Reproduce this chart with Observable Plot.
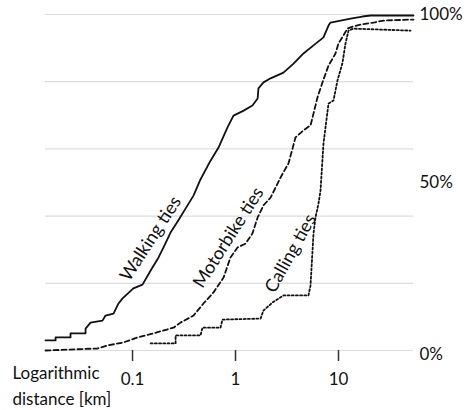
<!DOCTYPE html>
<html>
<head>
<meta charset="utf-8">
<script src="https://cdn.jsdelivr.net/npm/d3@7"></script>
<script src="https://cdn.jsdelivr.net/npm/@observablehq/plot@0.6"></script>
<style>
  html, body { margin: 0; padding: 0; background: #fff; }
  #chart svg { display: block; }
</style>
</head>
<body>
<div id="chart"></div>
<script>
// Distance (km, log scale) and cumulative share of ties (%)
const walkingX = [0.0143,0.0179,0.0179,0.025,0.025,0.035,0.035,0.0391,0.0511,0.0547,0.0654,0.0731,0.080,0.102,0.125,0.150,0.179,0.200,0.234,0.274,0.342,0.391,0.457,0.572,0.684,0.836,0.956,1.20,1.46,1.64,1.67,1.87,2.19,2.92,3.66,4.57,5.72,7.15,8.0,8.36,10.5,13.1,17.1,20.5,53.5];
const walkingY = [3.0,3.0,3.9,3.9,5.1,5.1,6.5,8.3,8.9,10.4,11.0,14.0,15.5,18.5,19.6,23.8,27.7,30.7,35.1,38.4,43.2,46.1,50.9,56.5,60.4,66.4,69.9,71.4,72.9,75.0,78.0,79.8,81.0,82.7,85.4,88.4,90.8,93.2,96.7,97.6,98.2,98.8,99.4,99.7,99.7];

const motorbikeX = [0.0143,0.0457,0.0572,0.0818,0.112,0.160,0.250,0.292,0.391,0.489,0.612,0.765,0.894,1.05,1.25,1.46,1.64,1.87,2.19,2.74,3.27,3.58,3.82,4.57,5.35,5.72,6.25,6.99,8.0,9.35,10.0,10.9,12.2,13.7,16.4,21.9,27.4,53.5];
const motorbikeY = [0,0.6,1.5,2.4,3.9,5.1,6.8,8.3,10.4,14.0,17.3,21.7,27.7,30.7,31.8,34.8,39.6,43.2,45.5,51.5,55.7,60.1,63.4,65.5,67.0,70.5,75.3,79.8,84.8,88.4,91.4,93.2,95.8,96.4,97.0,97.6,98.2,98.5];

const callingX = [0.150,0.262,0.262,0.457,0.478,0.715,0.748,1.75,1.87,2.29,2.92,5.11,5.35,5.72,5.98,6.40,6.69,7.15,8.0,8.94,9.78,10.9,11.7,12.5,14.0,50.0];
const callingY = [2.1,2.1,4.5,4.5,6.8,6.8,9.2,9.5,11.9,14.3,16.4,16.4,19.3,34.8,39.6,43.8,47.6,61.6,73.5,74.4,80.4,85.4,91.4,95.2,95.8,95.2];

const xTicks = [0.1, 1, 10];
const yGrid = [0, 20, 40, 60, 80, 100];
const yTickLabels = [50, 100];
const yBottomLabel = [0];

const seriesNames = ["Walking ties", "Motorbike ties", "Calling ties"];
const labelX = [0.15, 0.855, 3.42];
const labelY = [33.3, 33.6, 28.9];

const toRows = (xs, ys) => xs.map((x, i) => ({x, y: ys[i]}));
const walking = toRows(walkingX, walkingY);
const motorbike = toRows(motorbikeX, motorbikeY);
const calling = toRows(callingX, callingY);
const labels = seriesNames.map((name, i) => ({name, x: labelX[i], y: labelY[i], angle: [-57, -57.5, -61][i]}));

const font = "Lato, 'Open Sans', sans-serif";

const chart = Plot.plot({
  width: 469,
  height: 410,
  marginLeft: 45,
  marginRight: 56,
  marginTop: 14,
  marginBottom: 60,
  style: {fontFamily: font, fontSize: "17px", color: "#111", background: "#fff"},
  x: {type: "log", domain: [0.01429, 53.5]},
  y: {domain: [0, 100]},
  marks: [
    Plot.gridY(yGrid, {stroke: "#dcdcdc", strokeOpacity: 1, strokeWidth: 1.2}),
    Plot.axisX(xTicks, {tickSize: 11, tickPadding: 11, tickFormat: d => String(d), stroke: "#333", strokeWidth: 1.5, label: null, fontSize: 17}),
    Plot.axisY(yTickLabels, {anchor: "right", tickSize: 0, tickPadding: 6, tickFormat: d => d + "%", label: null, fontSize: 17}),
    Plot.axisY(yBottomLabel, {anchor: "right", tickSize: 0, tickPadding: 6, dy: 4, tickFormat: d => d + "%", label: null, fontSize: 17}),
    Plot.line(walking, {x: "x", y: "y", stroke: "#111", strokeWidth: 1.8}),
    Plot.line(motorbike, {x: "x", y: "y", stroke: "#111", strokeWidth: 1.8, strokeDasharray: "5,3"}),
    Plot.line(calling, {x: "x", y: "y", stroke: "#111", strokeWidth: 1.8, strokeDasharray: "2,2.2"}),
    Plot.text(labels, {x: "x", y: "y", text: "name", rotate: "angle", fontSize: 18, fill: "#111"}),
    Plot.text(["Logarithmic\ndistance [km]"], {frameAnchor: "bottom-left", textAnchor: "start", lineAnchor: "top", dx: -33, dy: 10, lineHeight: 1.53, fontSize: 17, fill: "#111"})
  ]
});
document.getElementById("chart").appendChild(chart);
</script>
</body>
</html>
